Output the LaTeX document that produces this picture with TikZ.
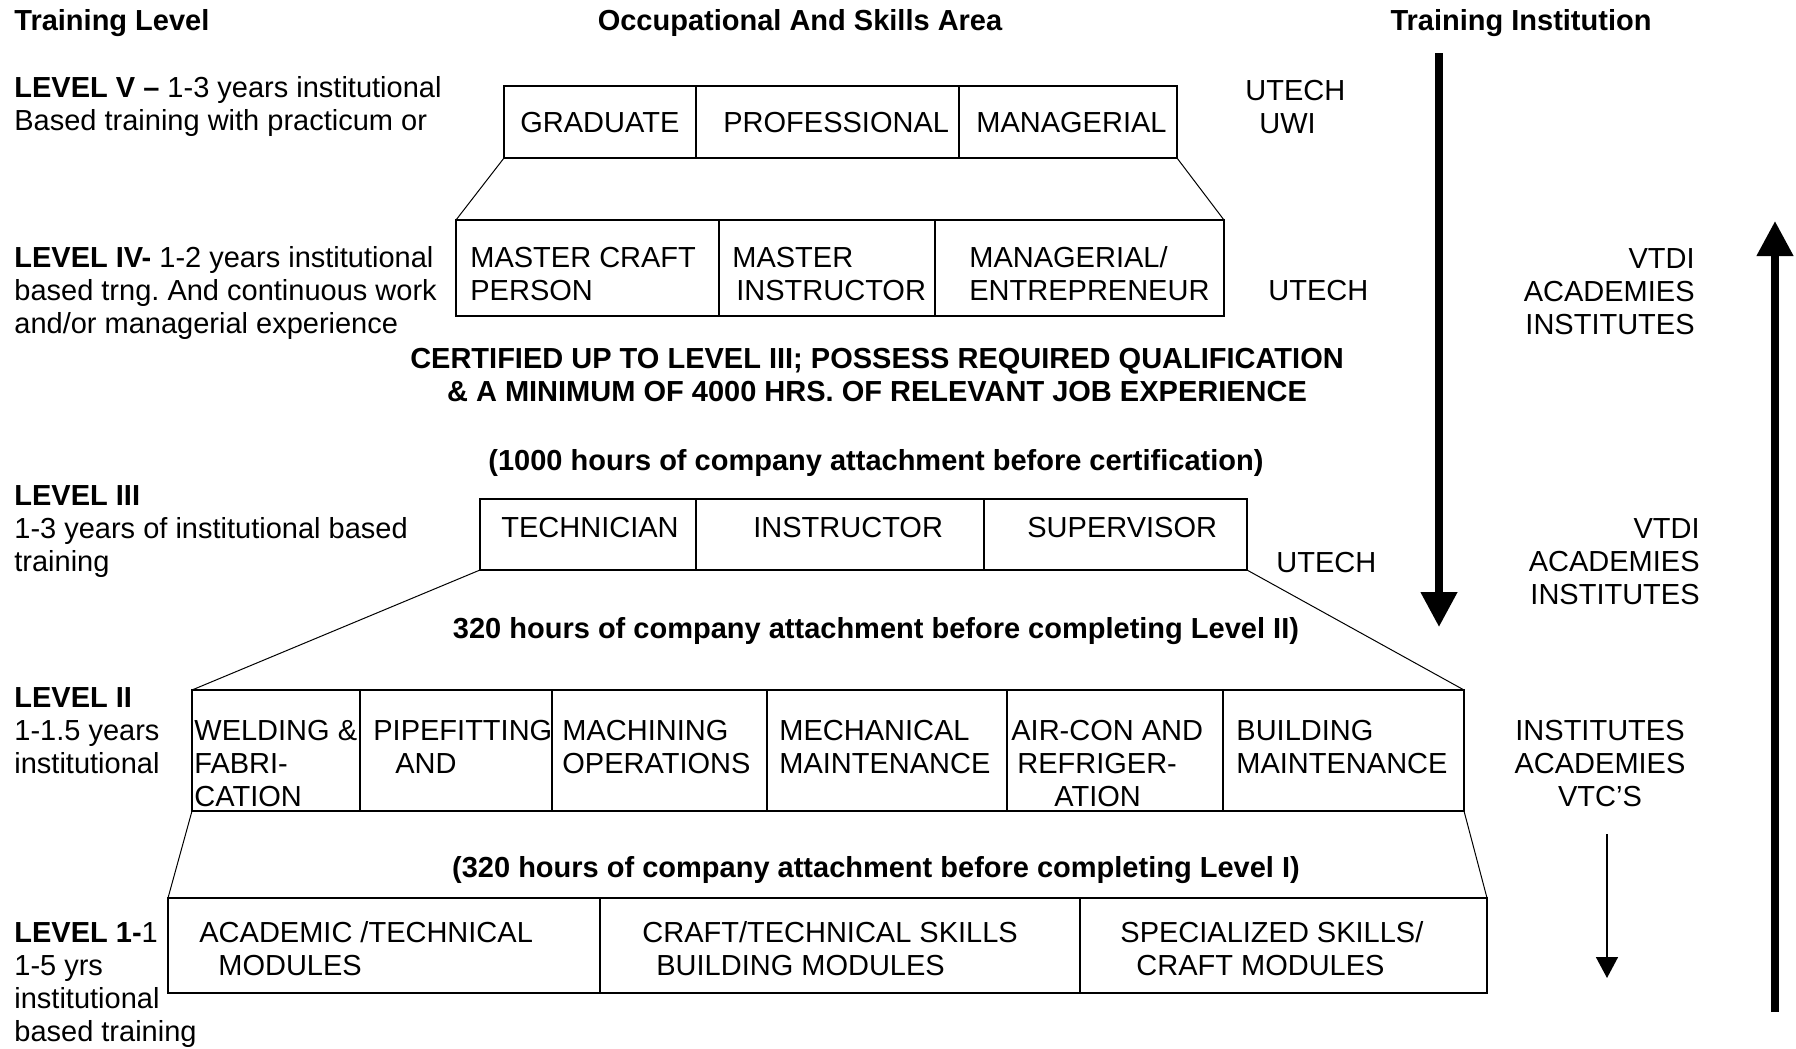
\documentclass[tikz,border=0pt]{standalone}
\usepackage{fontspec}
\setmainfont{Liberation Sans}
\usetikzlibrary{arrows.meta}
\tikzset{
    cell/.style = {line width = 0.8pt},
    slant/.style = {line width = 0.5pt},
    txt/.style = {inner sep = 0pt, align = left, anchor = base west,
        font = \fontsize{14.5}{16.5}\selectfont},
    rtxt/.style = {txt, align = right, anchor = base east},
    ctxt/.style = {txt, align = center, anchor = base},
    btxt/.style = {ctxt, font = \fontsize{14.5}{16.5}\selectfont\bfseries},
    bigarrow/.style = {line width = 3.8pt, -{Triangle[length = 17.5pt, width = 17.5pt]}},
    smallarrow/.style = {line width = 0.8pt, -{Triangle[length = 10.5pt, width = 11pt]}},
}
% one row of the ladder: name, top left corner, bottom right corner
\newcommand{\levelbox}[5]{%
    \draw[cell] (#2,#3) rectangle (#4,#5);
    \coordinate (#1-nw) at (#2,#3);
    \coordinate (#1-ne) at (#4,#3);
    \coordinate (#1-sw) at (#2,#5);
    \coordinate (#1-se) at (#4,#5);
}

\begin{document}
\frenchspacing
\begin{tikzpicture}[x = 0.5pt, y = -0.5pt]
\useasboundingbox (0,0) rectangle (1796,1049);
% note: multi-line nodes sit on the baseline of their last line

% column heads
\node[txt, font = \fontsize{14.5}{16.5}\selectfont\bfseries] (hlevel) at (14,31) {Training Level};
\node[btxt] (harea) at (800,31) {Occupational And Skills Area};
\node[btxt] (hinst) at (1521,31) {Training Institution};

% level V
\node[txt] (lv5) at (14,130) {\textbf{LEVEL V –} 1-3 years institutional\\Based training with practicum or};
\levelbox{r5}{504}{86}{1177}{158}
\foreach \x in {696,959} \draw[cell] (\x,86) -- (\x,158);
\node[txt] (grad) at (520,132) {GRADUATE};
\node[txt] (prof) at (723,132) {PROFESSIONAL};
\node[txt] (mgr) at (976,132) {MANAGERIAL};
\node[txt] (inst5) at (1245,133) {UTECH\\\hspace*{7pt}UWI};

% level IV
\node[txt] (lv4) at (14,333) {\textbf{LEVEL IV-} 1-2 years institutional\\based trng. And continuous work\\and/or managerial experience};
\levelbox{r4}{456}{220}{1224}{316}
\foreach \x in {719,935} \draw[cell] (\x,220) -- (\x,316);
\node[txt] (mcp) at (470,300) {MASTER CRAFT\\PERSON};
\node[txt] (mins) at (732,300) {MASTER\\\hspace*{2pt}INSTRUCTOR};
\node[txt] (ment) at (969,300) {MANAGERIAL/\\ENTREPRENEUR};
\node[txt] (utech4) at (1268,300) {UTECH};
\node[rtxt] (inst4) at (1695,334) {VTDI\\ACADEMIES\\INSTITUTES};
\draw[slant] (r5-sw) -- (r4-nw);
\draw[slant] (r5-se) -- (r4-ne);

\node[btxt] (cert) at (877,401) {CERTIFIED UP TO LEVEL III; POSSESS REQUIRED QUALIFICATION\\\& A MINIMUM OF 4000 HRS. OF RELEVANT JOB EXPERIENCE};
\node[btxt] (att3) at (876,470) {(1000 hours of company attachment before certification)};

% level III
\node[txt] (lv3) at (14,571) {\textbf{LEVEL III}\\1-3 years of institutional based\\training};
\levelbox{r3}{480}{499}{1247}{570}
\foreach \x in {696,984} \draw[cell] (\x,499) -- (\x,570);
\node[txt] (tech) at (501,537) {TECHNICIAN};
\node[txt] (instr) at (753,537) {INSTRUCTOR};
\node[txt] (super) at (1027,537) {SUPERVISOR};
\node[txt] (utech3) at (1276,572) {UTECH};
\node[rtxt] (inst3) at (1700,604) {VTDI\\ACADEMIES\\INSTITUTES};

\node[btxt] (att2) at (876,638) {320 hours of company attachment before completing Level II)};

% level II
\node[txt] (lv2) at (14,773) {\textbf{LEVEL II}\\1-1.5 years\\institutional};
\levelbox{r2}{192}{690}{1464}{811}
\foreach \x in {360,552,767,1007,1223} \draw[cell] (\x,690) -- (\x,811);
\node[txt] (weld) at (194,806) {WELDING \&\\FABRI-\\CATION};
\node[txt] (pipe) at (373,773) {PIPEFITTING\\\hspace*{11pt}AND};
\node[txt] (mach) at (562,773) {MACHINING\\OPERATIONS};
\node[txt] (mech) at (779,773) {MECHANICAL\\MAINTENANCE};
\node[txt] (acon) at (1011,806) {AIR-CON AND\\\hspace*{3pt}REFRIGER-\\\hspace*{21.5pt}ATION};
\node[txt] (bldg) at (1236,773) {BUILDING\\MAINTENANCE};
\node[ctxt] (inst2) at (1600,806) {INSTITUTES\\ACADEMIES\\VTC’S};
\draw[slant] (r3-sw) -- (r2-nw);
\draw[slant] (r3-se) -- (r2-ne);

\node[btxt] (att1) at (876,877) {(320 hours of company attachment before completing Level I)};

% level I
\node[txt] (lv1) at (14,1041) {\textbf{LEVEL 1-}1\\1-5 yrs\\institutional\\based training};
\levelbox{r1}{168}{898}{1487}{993}
\foreach \x in {600,1080} \draw[cell] (\x,898) -- (\x,993);
\node[txt] (acad) at (199,975) {ACADEMIC /TECHNICAL\\\hspace*{9.5pt}MODULES};
\node[txt] (craft) at (642,975) {CRAFT/TECHNICAL SKILLS\\\hspace*{7pt}BUILDING MODULES};
\node[txt] (spec) at (1120,975) {SPECIALIZED SKILLS/\\\hspace*{8pt}CRAFT MODULES};
\draw[slant] (r2-sw) -- (r1-nw);
\draw[slant] (r2-se) -- (r1-ne);

% progression arrows
\coordinate (dtop) at (1439,53);
\coordinate (dend) at (1439,627);
\draw[bigarrow] (dtop) -- (dend);
\coordinate (ubot) at (1775,1012);
\coordinate (uend) at (1775,221);
\draw[bigarrow] (ubot) -- (uend);
\coordinate (stop) at (1607,834);
\coordinate (send) at (1607,978);
\draw[smallarrow] (stop) -- (send);
\end{tikzpicture}
\end{document}
